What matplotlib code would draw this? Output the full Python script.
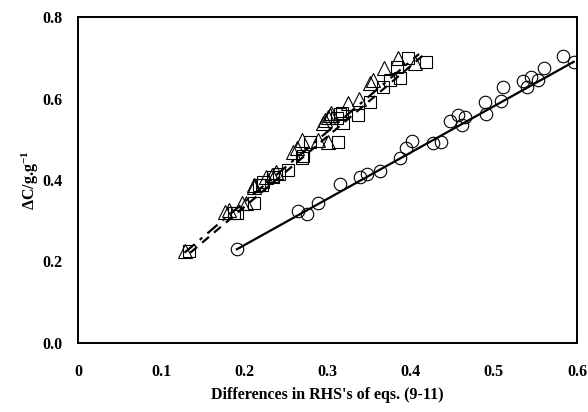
import numpy as np
import matplotlib
matplotlib.use('Agg')
import matplotlib.pyplot as plt

plt.rcParams['font.family'] = ['Liberation Serif', 'DejaVu Serif']
plt.rcParams['font.weight'] = 'bold'
plt.rcParams['mathtext.fontset'] = 'custom'
plt.rcParams['mathtext.rm'] = 'Liberation Serif:bold'
plt.rcParams['mathtext.it'] = 'Liberation Serif:bold'
plt.rcParams['mathtext.bf'] = 'Liberation Serif:bold'

# circles
circ_x = [0.191, 0.265, 0.275, 0.288, 0.315, 0.339, 0.347, 0.363, 0.387, 0.394,
          0.402, 0.427, 0.437, 0.447, 0.457, 0.462, 0.465, 0.489, 0.490, 0.509,
          0.511, 0.535, 0.540, 0.545, 0.553, 0.560, 0.583, 0.596]
circ_y = [0.230, 0.324, 0.317, 0.343, 0.389, 0.408, 0.415, 0.422, 0.453, 0.479,
          0.495, 0.490, 0.494, 0.545, 0.559, 0.535, 0.554, 0.592, 0.562, 0.595,
          0.629, 0.643, 0.629, 0.653, 0.645, 0.676, 0.704, 0.690]

# triangles
tri_x = [0.129, 0.177, 0.182, 0.197, 0.202, 0.211, 0.211, 0.226, 0.233, 0.238,
         0.259, 0.263, 0.269, 0.289, 0.300, 0.294, 0.300, 0.304, 0.297, 0.303,
         0.325, 0.338, 0.351, 0.355, 0.368, 0.385, 0.405]
tri_y = [0.226, 0.322, 0.326, 0.343, 0.343, 0.388, 0.384, 0.407, 0.412, 0.420,
         0.469, 0.478, 0.498, 0.497, 0.494, 0.541, 0.555, 0.564, 0.547, 0.560,
         0.588, 0.600, 0.637, 0.645, 0.674, 0.699, 0.686]

# squares
sq_x = [0.134, 0.187, 0.191, 0.211, 0.218, 0.223, 0.221, 0.235, 0.242, 0.253,
        0.269, 0.271, 0.279, 0.313, 0.311, 0.315, 0.319, 0.317, 0.337, 0.351,
        0.367, 0.375, 0.387, 0.384, 0.397, 0.419]
sq_y = [0.226, 0.320, 0.320, 0.343, 0.388, 0.396, 0.388, 0.407, 0.415, 0.425,
        0.453, 0.460, 0.494, 0.494, 0.551, 0.562, 0.539, 0.564, 0.560, 0.592,
        0.629, 0.645, 0.650, 0.678, 0.699, 0.690]

# trend lines: slope, intercept, x range
circ_fit = [1.136, 0.013, 0.191, 0.596]
tri_fit = [1.73, 0.0, 0.128, 0.41]
sq_fit = [1.73, -0.012, 0.135, 0.42]

fig = plt.figure(figsize=(5.88, 4.12), dpi=100)
ax = fig.add_axes([0.1327, 0.1675, 0.8486, 0.7912])

mk = dict(linestyle='none', markerfacecolor='none', markeredgecolor='black',
          markeredgewidth=0.8)
ax.plot(circ_x, circ_y, marker='o', markersize=9, **mk)
ax.plot(tri_x, tri_y, marker='^', markersize=9.5, **mk)
ax.plot(sq_x, sq_y, marker='s', markersize=8, **mk)

def trend(fit, **kw):
    xx = np.array(fit[2:])
    ax.plot(xx, fit[0] * xx + fit[1], color='black', **kw)

trend(circ_fit, linewidth=1.6, linestyle='-')
trend(tri_fit, linewidth=1.6, linestyle=(0, (6, 3, 1.5, 3)))
trend(sq_fit, linewidth=1.6, linestyle=(0, (4, 3)))

ax.set_xlim(0, 0.6)
ax.set_ylim(0, 0.8)
ax.set_xticks([0, 0.1, 0.2, 0.3, 0.4, 0.5, 0.6])
ax.set_xticklabels(['0', '0.1', '0.2', '0.3', '0.4', '0.5', '0.6'])
ax.set_yticks([0, 0.2, 0.4, 0.6, 0.8])
ax.set_yticklabels(['0.0', '0.2', '0.4', '0.6', '0.8'])
ax.tick_params(length=0, labelsize=11.5)
ax.tick_params(axis='x', pad=15)
ax.tick_params(axis='y', pad=11)
for s in ax.spines.values():
    s.set_linewidth(1.4)

ax.set_xlabel("Differences in RHS's of eqs. (9-11)", fontsize=11.5, fontweight='bold', labelpad=5)
ax.set_ylabel(r'$\Delta$C/g.g$^{-1}$', fontsize=11.5, fontweight='bold', labelpad=1)

fig.savefig('out.png', dpi=100)
